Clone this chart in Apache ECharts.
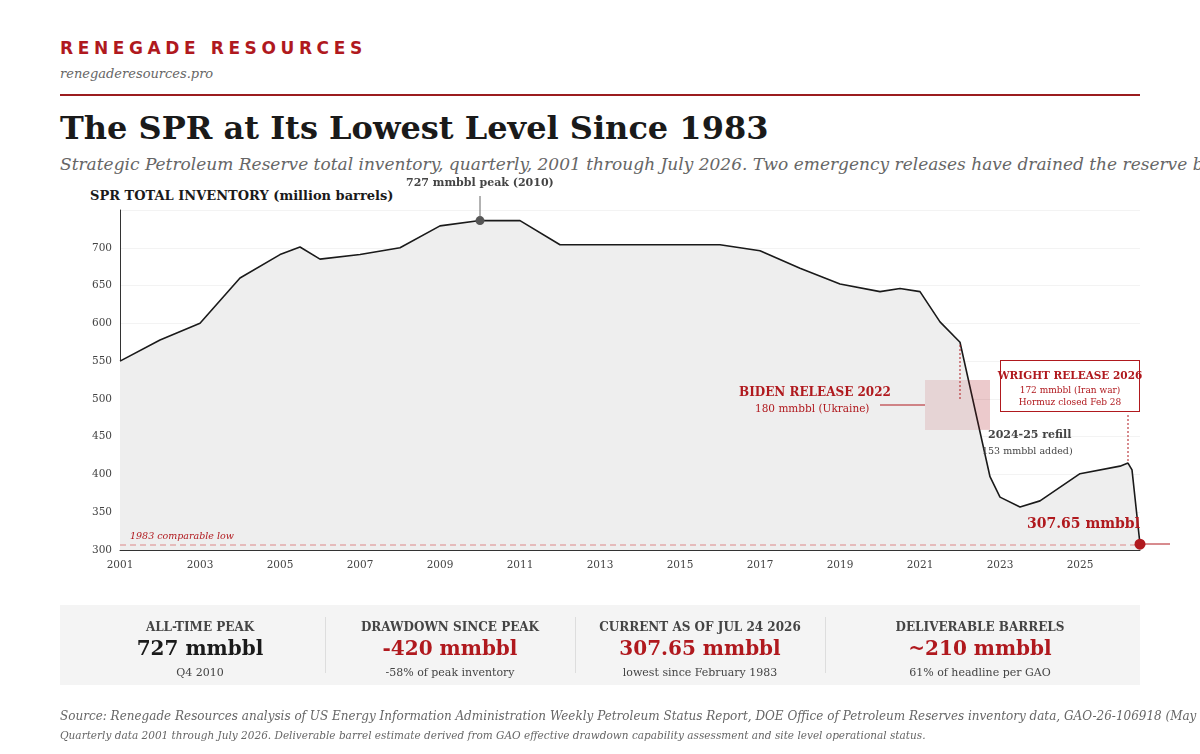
<!DOCTYPE html>
<html><head><meta charset="utf-8">
<script src="https://cdn.jsdelivr.net/npm/echarts@6/dist/echarts.min.js"></script>
<style>
body{margin:0;width:1200px;height:754px;overflow:hidden;background:#fff;font-family:"DejaVu Serif",serif;position:relative}
.a{position:absolute;white-space:nowrap}
#c{position:absolute;left:0;top:0;width:1200px;height:754px}
.stat{position:absolute;top:620px;width:250px;text-align:center}
.stat .h{font-size:12px;font-weight:bold;color:#444;letter-spacing:0}
.stat .v{font-size:20px;font-weight:bold;margin-top:2px}
.stat .s{font-size:11px;color:#444;margin-top:6px}
</style></head><body>
<div class="a" style="left:60px;top:38px;font-family:'DejaVu Sans',sans-serif;font-weight:bold;font-size:17px;letter-spacing:4.6px;color:#b0191e">RENEGADE RESOURCES</div>
<div class="a" style="left:60px;top:66px;font-style:italic;font-size:13px;color:#666">renegaderesources.pro</div>
<div class="a" style="left:60px;top:94px;width:1080px;height:2px;background:#9b1c1f"></div>
<div class="a" style="left:60px;top:109px;font-size:32px;font-weight:bold;color:#1a1a1a">The SPR at Its Lowest Level Since 1983</div>
<div class="a" style="left:60px;top:154px;font-style:italic;font-size:17px;color:#666">Strategic Petroleum Reserve total inventory, quarterly, 2001 through July 2026. Two emergency releases have drained the reserve by more than half.</div>
<div class="a" style="left:90px;top:188px;font-size:13px;font-weight:bold;color:#1a1a1a">SPR TOTAL INVENTORY (million barrels)</div>
<div id="c"></div>
<div class="a" style="left:60px;top:605px;width:1080px;height:80px;background:#f4f4f4;z-index:-1"></div>
<div class="a" style="left:325px;top:617px;width:1px;height:56px;background:#ddd"></div>
<div class="a" style="left:575px;top:617px;width:1px;height:56px;background:#ddd"></div>
<div class="a" style="left:825px;top:617px;width:1px;height:56px;background:#ddd"></div>
<div class="stat" style="left:75px"><div class="h">ALL-TIME PEAK</div><div class="v" style="color:#1a1a1a">727 mmbbl</div><div class="s">Q4 2010</div></div>
<div class="stat" style="left:325px"><div class="h">DRAWDOWN SINCE PEAK</div><div class="v" style="color:#b0191e">-420 mmbbl</div><div class="s">-58% of peak inventory</div></div>
<div class="stat" style="left:575px"><div class="h">CURRENT AS OF JUL 24 2026</div><div class="v" style="color:#b0191e">307.65 mmbbl</div><div class="s">lowest since February 1983</div></div>
<div class="stat" style="left:855px"><div class="h">DELIVERABLE BARRELS</div><div class="v" style="color:#b0191e">~210 mmbbl</div><div class="s">61% of headline per GAO</div></div>
<div class="a" style="left:60px;top:709px;font-style:italic;font-size:12px;color:#666">Source: Renegade Resources analysis of US Energy Information Administration Weekly Petroleum Status Report, DOE Office of Petroleum Reserves inventory data, GAO-26-106918 (May 2026).</div>
<div class="a" style="left:60px;top:729px;font-style:italic;font-size:10.5px;color:#666">Quarterly data 2001 through July 2026. Deliverable barrel estimate derived from GAO effective drawdown capability assessment and site level operational status.</div>
<div class="a" style="left:1000px;top:360px;width:138px;height:50px;border:1px solid #b0191e;background:#fff;text-align:center;z-index:5">
<div style="font-size:10.5px;font-weight:bold;color:#b0191e;margin-top:8px;margin-left:-6px;margin-right:-6px">WRIGHT RELEASE 2026</div>
<div style="font-size:9px;color:#b0191e;margin-top:4px">172 mmbbl (Iran war)</div>
<div style="font-size:9px;color:#b0191e;margin-top:2px">Hormuz closed Feb 28</div></div>
<script>
const years=[2001,2002,2003,2004,2005,2005.5,2006,2007,2008,2009,2010,2011,2012,2016,2017,2018,2019,2020,2020.5,2021,2021.5,2022,2022.75,2023,2023.5,2024,2025,2026,2026.2,2026.3,2026.5];
const inventory=[550,578,600,660,691,701,685,691,700,729,736,736,704,704,696,673,652,642,646,642,602,575,397,370,357,365,401,411,415,406,307.65];
const yTicks=[300,350,400,450,500,550,600,650,700];
const xTicks=[2001,2003,2005,2007,2009,2011,2013,2015,2017,2019,2021,2023,2025];
const red='#b0191e';
const ch=echarts.init(document.getElementById('c'));
const tx=(x,y,t,s,extra)=>({type:'text',left:x,top:y,z:100,style:Object.assign({text:t,font:s,fill:red},extra||{})});
ch.setOption({
 animation:false,
 grid:{left:120,right:60,top:210,bottom:204},
 xAxis:{type:'value',min:2001,max:2026.5,interval:2,splitLine:{show:false},axisTick:{show:false},
  axisLine:{lineStyle:{color:'#333'}},
  axisLabel:{color:'#444',fontFamily:'DejaVu Serif',fontSize:10.5,margin:10,formatter:v=>xTicks.includes(v)?String(v):''}},
 yAxis:{type:'value',min:300,max:750,interval:50,axisLine:{show:true,lineStyle:{color:'#333'}},axisTick:{show:false},
  splitLine:{lineStyle:{color:'#f3f3f3'}},
  axisLabel:{color:'#444',fontFamily:'DejaVu Serif',fontSize:10.5,formatter:v=>yTicks.includes(v)?String(v):''}},
 series:[{type:'line',data:years.map((y,i)=>[y,inventory[i]]),symbol:'none',z:2,
  lineStyle:{color:'#1a1a1a',width:1.6},areaStyle:{color:'#eeeeee',opacity:1},
  markArea:{silent:true,z:1,itemStyle:{color:'rgba(176,25,30,0.12)'},data:[[{coord:[2021.125,525]},{coord:[2022.75,459]}]]},
  markLine:{silent:true,symbol:'none',label:{show:false},data:[
   [{coord:[2001,307],lineStyle:{color:'#e2aaaa',type:[6,4],width:1.5}},{coord:[2026.5,307]}]
  ]},
  markPoint:{silent:true,symbol:'circle',symbolSize:9,label:{show:false},data:[
   {coord:[2010,736],itemStyle:{color:'#555'}},
   {coord:[2026.5,307.65],symbolSize:11,itemStyle:{color:red}}]}
 }],
 graphic:[
  {type:'rect',z:50,shape:{x:925,y:380,width:65,height:50},style:{fill:'rgba(176,25,30,0.12)'}},
  {type:'line',z:100,shape:{x1:480,y1:196,x2:480,y2:218},style:{stroke:'#666',lineWidth:1}},
  tx(406,178,'727 mmbbl peak (2010)','bold 11px DejaVu Serif',{fill:'#444'}),
  {type:'line',z:100,shape:{x1:880,y1:405,x2:925,y2:405},style:{stroke:red,lineWidth:1}},
  {type:'line',z:100,shape:{x1:960,y1:345,x2:960,y2:400},style:{stroke:red,lineWidth:1,lineDash:[2,2]}},
  {type:'line',z:100,shape:{x1:1128,y1:415,x2:1128,y2:462},style:{stroke:red,lineWidth:1,lineDash:[2,2]}},
  {type:'line',z:100,shape:{x1:1145,y1:544,x2:1170,y2:544},style:{stroke:red,lineWidth:1}},
  tx(739,387,'BIDEN RELEASE 2022','bold 12px DejaVu Serif'),
  tx(755,404,'180 mmbbl (Ukraine)','10.5px DejaVu Serif'),
  tx(988,430,'2024-25 refill','bold 11px DejaVu Serif',{fill:'#444'}),
  tx(982,447,'153 mmbbl added)','9.5px DejaVu Serif',{fill:'#444'}),
  tx(1027,517,'307.65 mmbbl','bold 14px DejaVu Serif'),
  tx(130,532,'1983 comparable low','italic 9.5px DejaVu Serif')
 ]
});
</script></body></html>
